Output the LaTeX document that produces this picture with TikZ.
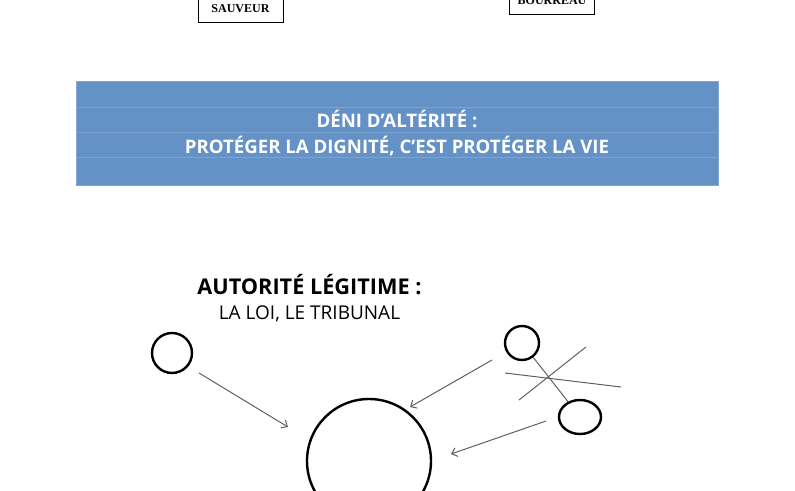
\documentclass[tikz,border=0pt]{standalone}
\usepackage{fontspec}
\setmainfont{Open Sans}
\newfontfamily\rolefont{Liberation Serif}
\usetikzlibrary{shapes,positioning,calc,arrows.meta}
\definecolor{bannerblue}{RGB}{101,146,198}
\definecolor{bannerrule}{RGB}{125,163,209}
\definecolor{linkgrey}{RGB}{95,95,95}

\begin{document}
\begin{tikzpicture}
            [x=1pt, y=-1pt,
            role/.style={rectangle, draw, line width=0.8pt, minimum width=85pt,
                minimum height=26pt, font=\rolefont\bfseries\fontsize{12}{14}\selectfont},
            person/.style={circle, draw, line width=2.4pt, inner sep=0pt, minimum size=#1},
            link/.style={linkgrey, line width=1pt},
            push/.style={link, -{Straight Barb[length=5pt,width=9pt]}}
            ]
            \useasboundingbox (0,0) rectangle (795,490);

            % Roles at the top
            \node (sauveur) [role] at (240.5,9) {SAUVEUR};
            \node (bourreau) [role] at (552,1) {BOURREAU};

            % Banner
            \node (banner) [rectangle, fill=bannerblue, draw=bannerblue!80!white,
                minimum width=642pt, minimum height=104pt] at (397,133) {};
            \foreach \y in {107,132,157}
            \draw [bannerrule, line width=0.6pt] (77,\y) -- (717,\y);
            \node (deni) [white, align=center, font=\bfseries\fontsize{18.6}{26}\selectfont]
                at (397,133) {DÉNI D’ALTÉRITÉ :\\PROTÉGER LA DIGNITÉ, C’EST PROTÉGER LA VIE};

            % Legitimate authority
            \node (autorite) [font=\bfseries\fontsize{21.7}{24}\selectfont] at (309.5,285)
                {AUTORITÉ LÉGITIME :};
            \node (loi) [below=3pt of autorite, font=\fontsize{19}{22}\selectfont]
                {LA LOI, LE TRIBUNAL};

            % People
            \node (left) [person=40pt] at (172,353) {};
            \node (centre) [person=124pt] at (369,461) {};
            \node (top) [person=34pt] at (522,343) {};
            \node (bottom) [ellipse, draw, line width=2.4pt, inner sep=0pt,
                minimum width=42pt, minimum height=34pt] at (580,417) {};

            \coordinate (l0) at (199,373);
            \coordinate (l1) at (288,427);
            \coordinate (t0) at (492,360);
            \coordinate (t1) at (410,407);
            \coordinate (b0) at (546,421);
            \coordinate (b1) at (451,454);
            \draw [push] (l0) -- (l1);
            \draw [push] (t0) -- (t1);
            \draw [push] (b0) -- (b1);

            % Broken tie
            \draw [link] (top) -- (bottom);
            \coordinate (x0) at (505,373);
            \coordinate (x1) at (621,387);
            \coordinate (x2) at (519,400);
            \coordinate (x3) at (586,347);
            \draw [link] (x0) -- (x1);
            \draw [link] (x2) -- (x3);
        \end{tikzpicture}
\end{document}
